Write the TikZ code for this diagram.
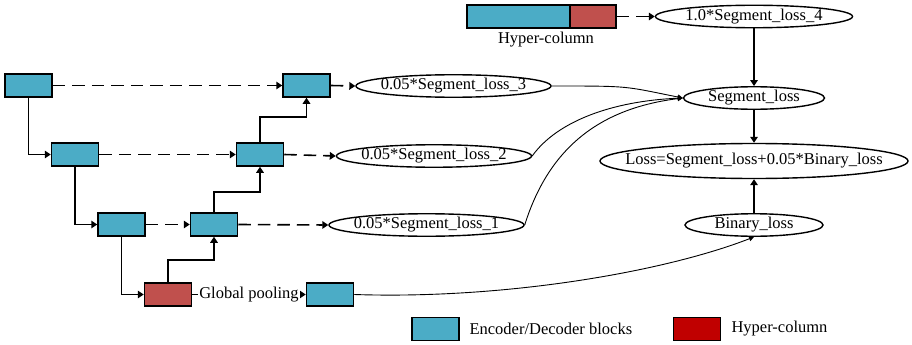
\documentclass[tikz,border=0pt]{standalone}
\usepackage{fontspec}
\setmainfont{Liberation Serif}
\usetikzlibrary{shapes.geometric,arrows.meta}
\definecolor{blockblue}{HTML}{4BACC6}
\definecolor{hcred}{HTML}{C0504D}
\definecolor{legendred}{HTML}{C00000}
% centred label of zero width, so the ellipse size is set by the style
\newcommand\losslabel[1]{\makebox[0pt]{#1}}

\begin{document}
\begin{tikzpicture}[x=1pt,y=-1pt,
  font=\fontsize{16.5}{19}\selectfont,
  block/.style={draw, line width=1.5pt, fill=blockblue, minimum width=47pt,
    minimum height=23pt, inner sep=0pt},
  hcblock/.style={block, fill=hcred},
  lossnode/.style={ellipse, draw, line width=1.4pt, inner sep=0pt,
    minimum width=#1, minimum height=22.5pt, text height=11pt, text depth=3.5pt},
  flow/.style={line width=1.6pt, -{Triangle[length=6pt,width=7.5pt]}},
  skip/.style={flow, dash pattern=on 12.5pt off 7pt},
  merge/.style={line width=0.9pt, -{Triangle[length=5pt,width=5pt]}},
]
\useasboundingbox (0,0) rectangle (912,345);

% encoder / decoder blocks
\node[block] (e1) at (28.5,85.5) {};
\node[block] (e2) at (75,154.5) {};
\node[block] (e3) at (121.5,224.5) {};
\node[hcblock] (pool) at (168,294.5) {};
\node[block] (d1) at (214,224.5) {};
\node[block] (d2) at (260,154.5) {};
\node[block] (d3) at (306.5,85.5) {};
\node[block] (gp) at (330,294.5) {};

% hyper-column bar
\node[block, minimum width=103pt] (hcb) at (518.5,16.5) {};
\node[hcblock, minimum width=46pt] (hcr) at (593,16.5) {};
\node (hclabel) at (546,40) {Hyper-column};

% loss ellipses
\node[lossnode=197pt] (s4) at (754,16.5) {\losslabel{1.0*Segment\_loss\_4}};
\node[lossnode=195pt] (s3) at (453.5,86) {\losslabel{0.05*Segment\_loss\_3}};
\node[lossnode=195pt] (s2) at (434,156) {\losslabel{0.05*Segment\_loss\_2}};
\node[lossnode=195pt] (s1) at (426.5,225) {\losslabel{0.05*Segment\_loss\_1}};
\node[lossnode=141pt] (seg) at (754,98) {\losslabel{Segment\_loss}};
\node[lossnode=308pt, minimum height=35pt] (loss) at (754,161)
  {\losslabel{Loss=Segment\_loss+0.05*Binary\_loss}};
\node[lossnode=138pt] (bin) at (754,225) {\losslabel{Binary\_loss}};

% encoder path
\draw[flow] (e1.south) |- (e2.west);
\draw[flow] (e2.south) |- (e3.west);
\draw[flow] (e3.south) |- (pool.west);

% decoder path
\draw[flow] (pool.north) -- ++(0,-22) -| (d1.south);
\draw[flow] (d1.north) -- ++(0,-20) -| (d2.south);
\draw[flow] (d2.north) -- ++(0,-25) -| (d3.south);

% skip connections
\draw[skip] (e1.east) -- (d3.west);
\draw[skip] (e2.east) -- (d2.west);
\draw[skip] (e3.east) -- (d1.west);
\draw[skip] (d3.east) -- (s3.west);
\draw[skip] (d2.east) -- (s2.west);
\draw[skip] (d1.east) -- (s1.west);
\draw[skip] (hcr.east) -- (s4.west);

% global pooling branch
\draw[flow] (pool.east) -- node[fill=white, inner sep=1pt] {Global pooling} (gp.west);

% loss aggregation
\draw[flow] (s4.south) -- (seg.north);
\draw[flow] (seg.south) -- (loss.north);
\draw[flow] (bin.north) -- (loss.south);
\draw[merge] (s3.east) .. controls +(80,0) and +(-60,-12) .. (seg.west);
\draw[merge] (s2.east) .. controls +(25,-35) and +(-70,3) .. (seg.west);
\draw[merge] (s1.east) .. controls +(25,-80) and +(-80,10) .. (seg.west);
\draw[merge] (gp.east) .. controls +(150,5) and +(-90,35) .. (bin.south);

% legend
\node[block] (legblue) at (435.7,329) {};
\node[anchor=west] (legbluetext) at (466,329) {Encoder/Decoder blocks};
\node[block, fill=legendred] (legred) at (697,329) {};
\node[anchor=west] (legredtext) at (728,329) {Hyper-column};
\end{tikzpicture}
\end{document}
